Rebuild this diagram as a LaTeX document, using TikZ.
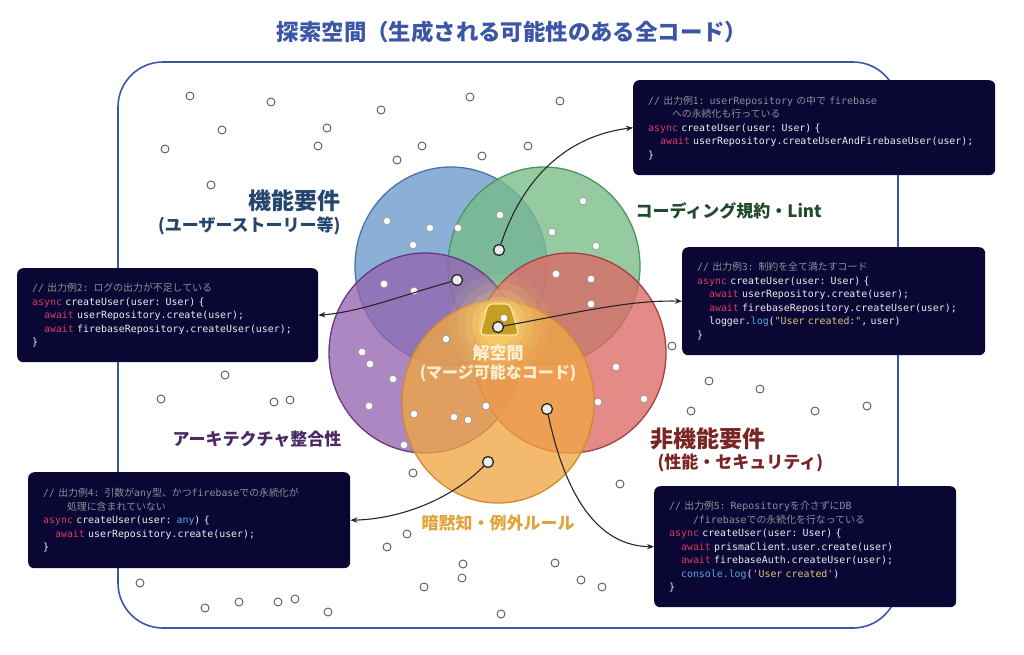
\documentclass[tikz,border=0pt]{standalone}
\usepackage{fontspec}
\setmonofont{DejaVu Sans Mono}
\newfontfamily\cjk{Noto Sans CJK JP}
\usetikzlibrary{arrows.meta}

\definecolor{framebl}{HTML}{3B56A6}
\definecolor{codebg}{HTML}{0B0734}
\definecolor{codefg}{HTML}{ECECF2}
\definecolor{cmgray}{HTML}{8E8E9C}
\definecolor{kwred}{HTML}{D23C66}
\definecolor{fnblue}{HTML}{52AADF}
\definecolor{stryel}{HTML}{D9C77A}
\definecolor{bluefill}{HTML}{6A98CC}
\definecolor{bluerim}{HTML}{4A74A6}
\definecolor{greenfill}{HTML}{78BC88}
\definecolor{greenrim}{HTML}{4A965E}
\definecolor{purplefill}{HTML}{9565B0}
\definecolor{purplerim}{HTML}{663887}
\definecolor{redfill}{HTML}{DC6A67}
\definecolor{redrim}{HTML}{A54040}
\definecolor{orangefill}{HTML}{F0A644}
\definecolor{orangerim}{HTML}{D4892C}
\definecolor{gold}{HTML}{C79D22}
\definecolor{goldrim}{HTML}{F6E7A6}
\definecolor{glow}{HTML}{FFE57A}
\definecolor{soltext}{HTML}{FBF1D2}
\definecolor{funcblue}{HTML}{24466E}
\definecolor{lintgreen}{HTML}{1F4A2C}
\definecolor{archpurple}{HTML}{4B2A63}
\definecolor{nfred}{HTML}{7A2424}
\definecolor{tacitorange}{HTML}{E3A23C}

\newcommand\cm[1]{\textcolor{cmgray}{#1}}
\newcommand\kw[1]{\textcolor{kwred}{#1}}
\newcommand\fn[1]{\textcolor{fnblue}{#1}}
\newcommand\st[1]{\textcolor{stryel}{#1}}
\newcommand\jp[1]{{\cjk #1}}
\newcommand\ind[1]{\hspace*{#1}}

\begin{document}
\begin{tikzpicture}[x=1pt, y=-1pt,
    codebox/.style={
        rectangle, rounded corners=6pt,
        fill=codebg, text=codefg,
        anchor=north west, align=left,
        inner xsep=15pt, inner ysep=0pt,
        font=\ttfamily\fontsize{9.9}{13.5}\selectfont
    },
    arrow/.style={-{Stealth[length=7pt, width=5.5pt]}, line width=1.1pt, draw=black!85},
    bgdot/.style={circle, draw=black!65, fill=white, line width=0.9pt,
        minimum size=8pt, inner sep=0pt},
    indot/.style={circle, draw=black!40, fill=white, line width=0.6pt,
        minimum size=7.5pt, inner sep=0pt},
    keydot/.style={circle, draw=black!85, fill=white!92!black, line width=1.3pt,
        minimum size=11pt, inner sep=0pt},
    venn/.style={line width=1.3pt, fill opacity=0.78},
    setlabel/.style={font=\cjk\bfseries\fontsize{17}{20}\selectfont},
    biglabel/.style={font=\cjk\bfseries\fontsize{23}{26}\selectfont},
]
\useasboundingbox (0,0) rectangle (1024,654);

% Titolo e cornice
\node[font=\cjk\bfseries\fontsize{22.4}{26}\selectfont, text=framebl] (title) at (512,32)
    {探索空間（生成される可能性のある全コード）};
\draw[framebl, line width=1.6pt, rounded corners=45pt] (118,62) rectangle (898,628);

% Punti esterni
\foreach \x/\y [count=\i] in {190/96, 271/102, 381/110, 470/97, 560/101, 222/130, 327/128,
    165/149, 318/146, 422/146, 397/160, 482/156, 528/146, 211/185,
    225/375, 161/399, 274/402, 290/400, 413/473, 407/534, 387/547,
    463/564, 462/578, 424/587, 555/563, 581/580, 602/587, 501/614, 328/612,
    140/583, 205/608, 239/602, 278/602, 295/599,
    620/484, 672/346, 709/381, 760/389, 691/411, 815/411, 867/406}
    \node[bgdot] (bg\i) at (\x,\y) {};

% Cerchi
\draw[venn, fill=bluefill, draw=bluerim]     (451,266) ellipse (96pt and 99pt);
\draw[venn, fill=greenfill, draw=greenrim]   (544,266) ellipse (96pt and 99pt);
\draw[venn, fill=purplefill, draw=purplerim] (425,353) ellipse (96pt and 100pt);
\draw[venn, fill=redfill, draw=redrim]       (570,353) ellipse (96pt and 100pt);
\draw[venn, fill=orangefill, draw=orangerim] (498,402) ellipse (96pt and 101pt);

% Spazio soluzioni
\foreach \r/\o in {50/0.08, 42/0.12, 34/0.17, 27/0.24, 21/0.32}
    \fill[glow, opacity=\o] (499,324) circle (\r pt);
\filldraw[fill=gold, draw=goldrim, line width=1.3pt, rounded corners=4pt]
    (488,304) -- (510,304) -- (519,335) -- (480,335) -- cycle;
\node[font=\cjk\bfseries\fontsize{17}{20}\selectfont, text=soltext] (sol) at (498,353) {解空間};
\node[font=\cjk\bfseries\fontsize{16}{19}\selectfont, text=soltext] (solsub) at (498,373) {(マージ可能なコード)};

% Punti interni
\foreach \x/\y [count=\i] in {387/221, 430/228, 458/228, 413/245, 500/215, 583/201,
    552/232, 596/246, 384/284, 414/291, 556/274, 591/279, 591/304, 504/318,
    446/339, 362/352, 370/364, 393/379, 369/406, 414/414, 454/417, 468/420,
    486/406, 616/367, 598/402, 644/399, 404/445}
    \node[indot] (in\i) at (\x,\y) {};

\node[keydot] (k1) at (499,250) {};
\node[keydot] (k2) at (457,280) {};
\node[keydot] (k3) at (498,327) {};
\node[keydot] (k4) at (488,462) {};
\node[keydot] (k5) at (547,409) {};

% Etichette
\node[biglabel, text=funcblue, anchor=east] (func) at (344,201) {機能要件};
\node[setlabel, text=funcblue, anchor=east] (funcsub) at (344,226) {(ユーザーストーリー等)};
\node[setlabel, text=lintgreen, anchor=west] (lint) at (632,211) {コーディング規約・Lint};
\node[setlabel, text=archpurple, anchor=east] (arch) at (345,439) {アーキテクチャ整合性};
\node[biglabel, text=nfred, anchor=west] (nonfunc) at (647,439) {非機能要件};
\node[setlabel, text=nfred, anchor=west] (nonfuncsub) at (654,463) {(性能・セキュリティ)};
\node[setlabel, text=tacitorange] (tacit) at (498,523) {暗黙知・例外ルール};

% Esempi di output
\node[codebox, text width=332pt, minimum height=95pt] (out1) at (633,80) {%
\cm{// \jp{出力例1}: userRepository \jp{の中で} firebase}\\
\cm{\ind{23.8pt}\jp{への永続化も行っている}}\\
\kw{async} createUser(user: User) \{\\
\ind{11.9pt}\kw{await} userRepository.createUserAndFirebaseUser(user);\\
\}};

\node[codebox, text width=271pt, minimum height=94pt] (out2) at (17,268) {%
\cm{// \jp{出力例2}: \jp{ログの出力が不足している}}\\
\kw{async} createUser(user: User) \{\\
\ind{11.9pt}\kw{await} userRepository.create(user);\\
\ind{11.9pt}\kw{await} firebaseRepository.createUser(user);\\
\}};

\node[codebox, text width=273pt, minimum height=108pt] (out3) at (682,247) {%
\cm{// \jp{出力例3}: \jp{制約を全て満たすコード}}\\
\kw{async} createUser(user: User) \{\\
\ind{11.9pt}\kw{await} userRepository.create(user);\\
\ind{11.9pt}\kw{await} firebaseRepository.createUser(user);\\
\ind{11.9pt}logger.\fn{log}(\st{"User created:"}, user)\\
\}};

\node[codebox, text width=292pt, minimum height=96pt] (out4) at (28,472) {%
\cm{// \jp{出力例4}: \jp{引数が}any\jp{型、かつ}firebase\jp{での永続化が}}\\
\cm{\ind{23.8pt}\jp{処理に含まれていない}}\\
\kw{async} createUser(user: \fn{any}) \{\\
\ind{11.9pt}\kw{await} userRepository.create(user);\\
\}};

\node[codebox, text width=272pt, minimum height=121pt] (out5) at (654,486) {%
\cm{// \jp{出力例5}: Repository\jp{を介さずに}DB}\\
\cm{\ind{23.8pt}/firebase\jp{での永続化を行なっている}}\\
\kw{async} createUser(user: User) \{\\
\ind{11.9pt}\kw{await} prismaClient.user.create(user)\\
\ind{11.9pt}\kw{await} firebaseAuth.createUser(user);\\
\ind{11.9pt}\fn{console.log}(\st{'User created'})\\
\}};

% Collegamenti
\draw[arrow] (k1) .. controls (522,180) and (565,136) .. (out1.west);
\draw[arrow] (k2) .. controls (400,296) and (360,312) .. (out2.east);
\draw[arrow] (k3) .. controls (580,312) and (630,300) .. (out3.west);
\draw[arrow] (k4) .. controls (450,500) and (400,519) .. (out4.east);
\draw[arrow] (k5) .. controls (562,480) and (590,546) .. (out5.west);
\end{tikzpicture}
\end{document}
